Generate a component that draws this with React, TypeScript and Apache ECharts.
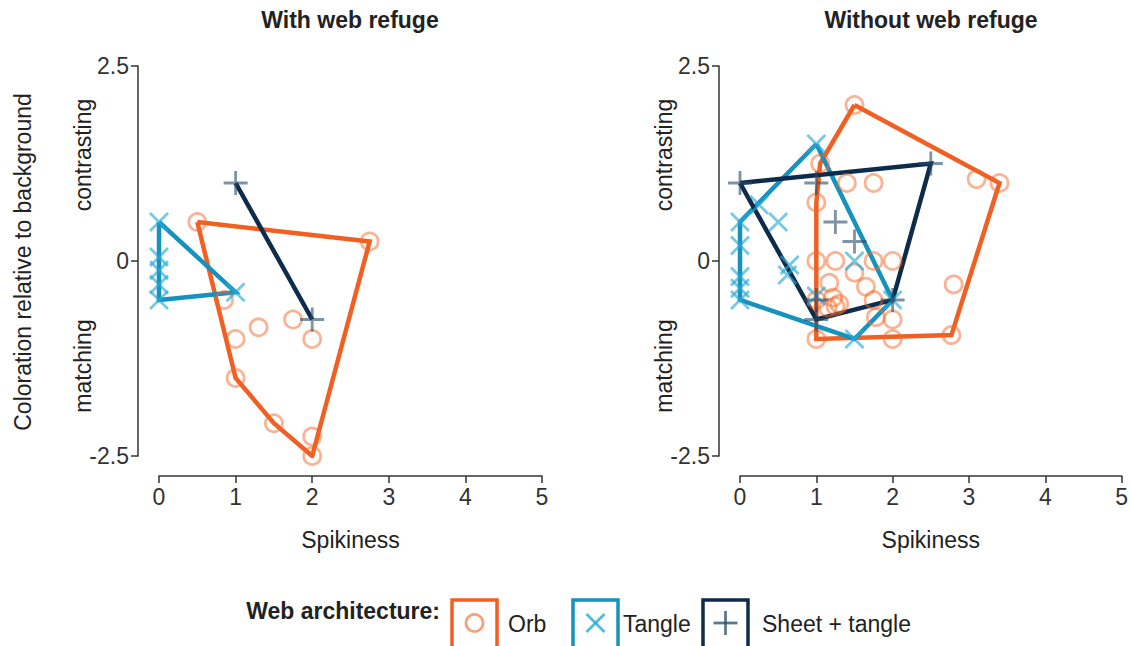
import React, { useEffect, useRef } from "react";
import * as echarts from "echarts";

const COL_ORB = "#F15F22";
const COL_TANGLE = "#1592BE";
const COL_SHEET = "#0D2B4A";
const PT_ORB = "rgba(241,103,40,0.62)";
const PT_TANGLE = "rgba(40,170,212,0.8)";
const PT_SHEET = "rgba(40,75,105,0.75)";

const xTicks = [0, 1, 2, 3, 4, 5];
const yTicks = [-2.5, 0, 2.5];

// With web refuge
const leftOrb = [[0.5, 0.5], [2.75, 0.25], [0.85, -0.5], [1.3, -0.85], [1.75, -0.75], [2, -1], [1, -1], [1, -1.5], [1.5, -2.08], [2, -2.25], [2, -2.5]];
const leftOrbHull = [[0.5, 0.5], [2.75, 0.25], [2, -2.5], [1.5, -2.08], [1, -1.5], [0.5, 0.5]];
const leftTangle = [[0, 0.5], [0, 0.05], [0, -0.12], [0, -0.3], [0, -0.5], [1, -0.4]];
const leftTangleHull = [[0, 0.5], [1, -0.4], [0, -0.5], [0, 0.5]];
const leftSheet = [[1, 1], [2, -0.75]];
const leftSheetHull = [[1, 1], [2, -0.75]];

// Without web refuge
const rightOrb = [[1.5, 2], [1.05, 1.25], [1.4, 1], [1.75, 1], [3.1, 1.05], [3.4, 1], [1, 0.75], [1, 0], [1.25, 0], [1.75, 0], [2, 0], [1.5, -0.15], [1.17, -0.28], [1.65, -0.33], [2.8, -0.3], [1, -0.5], [1.22, -0.47], [1.15, -0.6], [1.25, -0.58], [1.3, -0.55], [1.75, -0.5], [1.78, -0.72], [2, -0.75], [1, -1], [2, -1], [2.77, -0.95]];
const rightOrbHull = [[1.5, 2], [3.4, 1], [2.77, -0.95], [1, -1], [1, 0.75], [1.05, 1.25], [1.5, 2]];
const rightTangle = [[1, 1.5], [0.25, 0.72], [0.5, 0.5], [0, 0.5], [0, 0.2], [0, -0.2], [0, -0.35], [0, -0.5], [0.65, -0.05], [0.62, -0.18], [1.5, 0], [1, -0.45], [2, -0.5], [1.5, -1]];
const rightTangleHull = [[1, 1.5], [2, -0.5], [1.5, -1], [0, -0.5], [0, 0.5], [1, 1.5]];
const rightSheet = [[0, 1], [2.5, 1.25], [1, 1], [1.25, 0.5], [1.5, 0.25], [1, -0.5], [1, -0.75], [2, -0.5]];
const rightSheetHull = [[0, 1], [2.5, 1.25], [2, -0.5], [1, -0.75], [0, 1]];

const panelTitles = ["With web refuge", "Without web refuge"];
const legendItems = ["Orb", "Tangle", "Sheet + tangle"];

const SYM_X = "path://M0,0L10,10M10,0L0,10";
const SYM_PLUS = "path://M5,0L5,10M0,5L10,5";
const FONT = "Liberation Sans, Arial, sans-serif";
const FS = 23;

function hull(data: number[][], color: string, idx: number) {
  return {
    type: "line",
    xAxisIndex: idx,
    yAxisIndex: idx,
    data,
    showSymbol: false,
    symbol: "none",
    lineStyle: { color, width: 4.5, join: "miter" },
    z: 2,
    silent: true,
  };
}

function points(data: number[][], kind: string, idx: number) {
  const base: any = {
    type: "scatter",
    xAxisIndex: idx,
    yAxisIndex: idx,
    data,
    z: 3,
    silent: true,
  };
  if (kind === "orb") {
    base.symbol = "circle";
    base.symbolSize = 17;
    base.itemStyle = { color: "transparent", borderColor: PT_ORB, borderWidth: 2.8 };
  } else if (kind === "tangle") {
    base.symbol = SYM_X;
    base.symbolSize = 18;
    base.itemStyle = { color: "transparent", borderColor: PT_TANGLE, borderWidth: 2.8 };
  } else {
    base.symbol = SYM_PLUS;
    base.symbolSize = 24;
    base.itemStyle = { color: "transparent", borderColor: PT_SHEET, borderWidth: 2.8 };
  }
  return base;
}

export default function App() {
  const ref = useRef<HTMLDivElement>(null);
  useEffect(() => {
    if (!ref.current) return;
    const chart = echarts.init(ref.current, undefined, { renderer: "svg" });
    const grids = [
      { left: 159, top: 66, width: 383, height: 390 },
      { left: 740, top: 66, width: 383, height: 390 },
    ];
    const axisCommon = {
      axisTick: { show: true, length: 7, lineStyle: { color: "#333", width: 1.5 } },
      splitLine: { show: false },
    };
    const xAxes = [0, 1].map((i) => ({
      type: "value",
      gridIndex: i,
      min: xTicks[0],
      max: xTicks[xTicks.length - 1],
      interval: 1,
      offset: 20,
      position: "bottom",
      name: "Spikiness",
      nameLocation: "middle",
      nameGap: 52,
      nameTextStyle: { fontSize: FS, color: "#222", fontFamily: FONT },
      axisLabel: { fontSize: FS, color: "#333", margin: 9, fontFamily: FONT },
      axisLine: { show: true, onZero: false, lineStyle: { color: "#333", width: 1.5 } },
      ...axisCommon,
    }));
    const yAxes = [0, 1].map((i) => ({
      type: "value",
      gridIndex: i,
      min: yTicks[0],
      max: yTicks[yTicks.length - 1],
      interval: 2.5,
      offset: 21,
      position: "left",
      axisLabel: { fontSize: FS, color: "#333", margin: 9, fontFamily: FONT },
      axisLine: { show: true, onZero: false, lineStyle: { color: "#333", width: 1.5 } },
      ...axisCommon,
    }));

    const textStyle = (size: number, weight = "normal") => ({
      fontSize: size,
      fontWeight: weight,
      fontFamily: FONT,
      fill: "#222",
    });

    const graphics: any[] = [
      { type: "text", x: 350, y: 20, style: { text: panelTitles[0], align: "center", verticalAlign: "middle", ...textStyle(FS, "bold") } },
      { type: "text", x: 931, y: 20, style: { text: panelTitles[1], align: "center", verticalAlign: "middle", ...textStyle(FS, "bold") } },
      { type: "text", x: 23, y: 262, rotation: Math.PI / 2, style: { text: "Coloration relative to background", align: "center", verticalAlign: "middle", ...textStyle(FS) } },
      { type: "text", x: 83, y: 155, rotation: Math.PI / 2, style: { text: "contrasting", align: "center", verticalAlign: "middle", ...textStyle(FS) } },
      { type: "text", x: 83, y: 366, rotation: Math.PI / 2, style: { text: "matching", align: "center", verticalAlign: "middle", ...textStyle(FS) } },
      { type: "text", x: 664, y: 155, rotation: Math.PI / 2, style: { text: "contrasting", align: "center", verticalAlign: "middle", ...textStyle(FS) } },
      { type: "text", x: 664, y: 366, rotation: Math.PI / 2, style: { text: "matching", align: "center", verticalAlign: "middle", ...textStyle(FS) } },
      { type: "text", x: 440, y: 611, style: { text: "Web architecture:", align: "right", verticalAlign: "middle", ...textStyle(FS, "bold") } },
    ];
    const boxX = [452, 573, 703];
    const textX = [508, 623, 762];
    const boxCols = [COL_ORB, COL_TANGLE, COL_SHEET];
    const ptCols = [PT_ORB, PT_TANGLE, PT_SHEET];
    legendItems.forEach((name, i) => {
      const bx = boxX[i];
      const cx = bx + 22.5;
      const cy = 623;
      graphics.push({ type: "rect", shape: { x: bx, y: 600, width: 45, height: 50 }, style: { fill: "#fff", stroke: boxCols[i], lineWidth: 3.5 } });
      if (i === 0) {
        graphics.push({ type: "circle", shape: { cx, cy, r: 8.5 }, style: { fill: "none", stroke: ptCols[i], lineWidth: 2.8 } });
      } else if (i === 1) {
        graphics.push({ type: "line", shape: { x1: cx - 9, y1: cy - 9, x2: cx + 9, y2: cy + 9 }, style: { stroke: ptCols[i], lineWidth: 2.8 } });
        graphics.push({ type: "line", shape: { x1: cx + 9, y1: cy - 9, x2: cx - 9, y2: cy + 9 }, style: { stroke: ptCols[i], lineWidth: 2.8 } });
      } else {
        graphics.push({ type: "line", shape: { x1: cx - 12, y1: cy, x2: cx + 12, y2: cy }, style: { stroke: ptCols[i], lineWidth: 2.8 } });
        graphics.push({ type: "line", shape: { x1: cx, y1: cy - 12, x2: cx, y2: cy + 12 }, style: { stroke: ptCols[i], lineWidth: 2.8 } });
      }
      graphics.push({ type: "text", x: textX[i], y: 624, style: { text: name, align: "left", verticalAlign: "middle", ...textStyle(FS) } });
    });

    chart.setOption({
      animation: false,
      backgroundColor: "#fff",
      grid: grids,
      xAxis: xAxes,
      yAxis: yAxes,
      series: [
        hull(leftOrbHull, COL_ORB, 0),
        hull(leftTangleHull, COL_TANGLE, 0),
        hull(leftSheetHull, COL_SHEET, 0),
        points(leftOrb, "orb", 0),
        points(leftTangle, "tangle", 0),
        points(leftSheet, "sheet", 0),
        hull(rightOrbHull, COL_ORB, 1),
        hull(rightTangleHull, COL_TANGLE, 1),
        hull(rightSheetHull, COL_SHEET, 1),
        points(rightOrb, "orb", 1),
        points(rightTangle, "tangle", 1),
        points(rightSheet, "sheet", 1),
      ],
      graphic: graphics,
    });
    return () => chart.dispose();
  }, []);
  return <div ref={ref} style={{ position: "fixed", left: 0, top: 0, width: 1131, height: 646 }} />;
}
